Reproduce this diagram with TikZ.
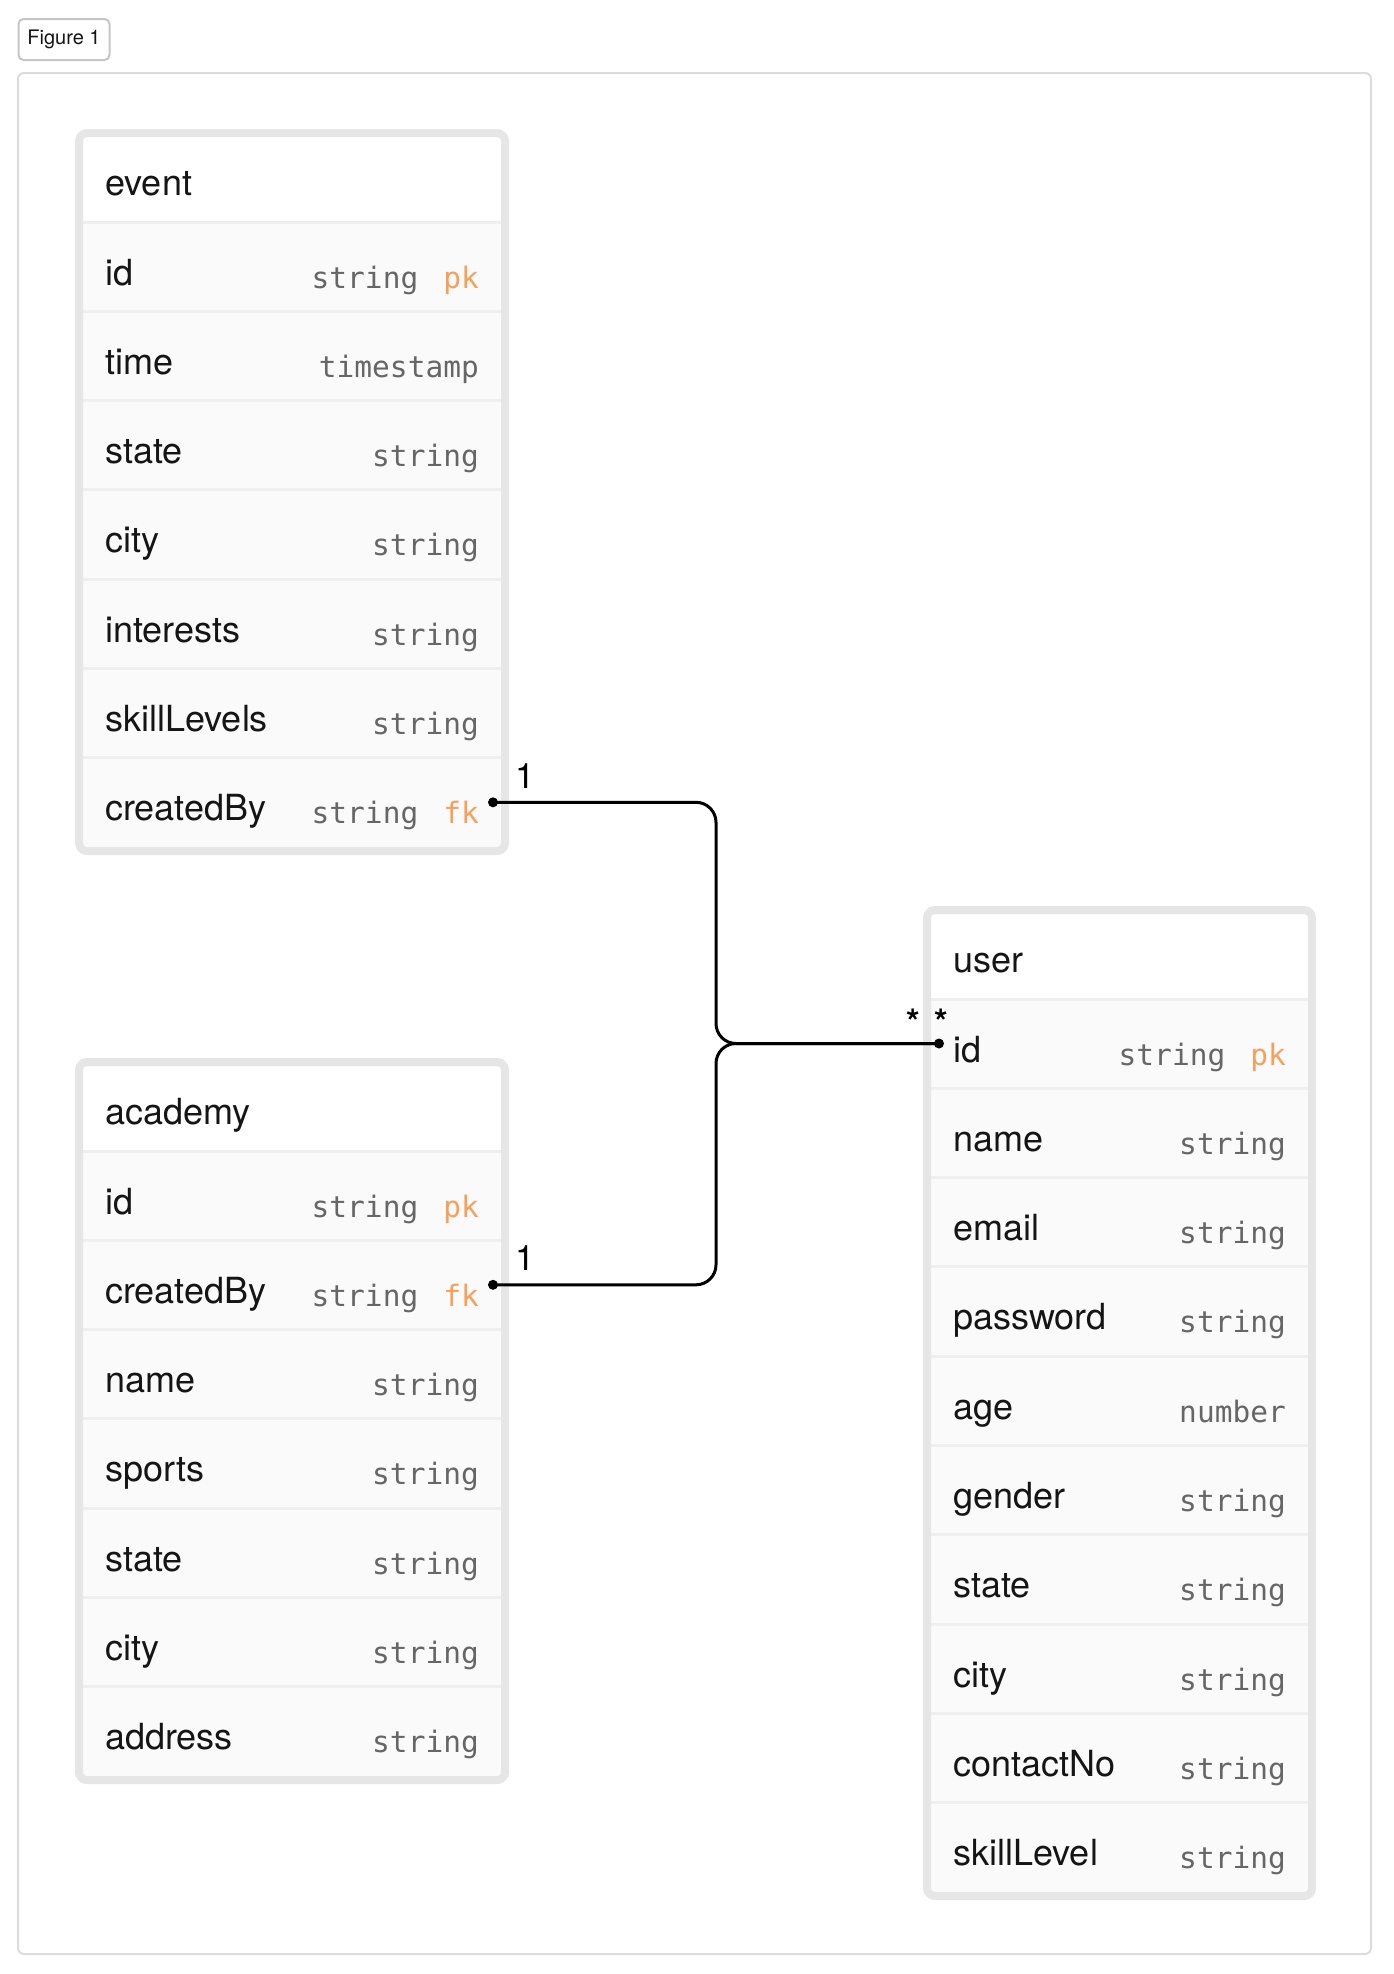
\documentclass[tikz,border=0pt]{standalone}
\usepackage{fontspec}
\setmainfont{TeX Gyre Heros}
\setmonofont{DejaVu Sans Mono}
\usepackage{tikz}
\usetikzlibrary{
  calc,
  positioning,
}
\definecolor{tableline}{HTML}{E6E6E6}
\definecolor{rowfill}{HTML}{FAFAFA}
\definecolor{rowsep}{HTML}{EFEFEF}
\definecolor{namecol}{HTML}{151515}
\definecolor{typecol}{HTML}{666666}
\definecolor{keycol}{HTML}{F5A15C}
\definecolor{panelline}{HTML}{DCDCDC}
\tikzset{
  panel/.style={draw=panelline, line width=2pt, rounded corners=6pt},
  figtag/.style={draw=panelline!90!black, line width=2pt, rounded corners=5pt,
    minimum width=91pt, minimum height=41pt, inner sep=0,
    font=\fontsize{20}{24}\selectfont, text=namecol},
  tableborder/.style={draw=tableline, line width=8pt, rounded corners=8pt},
  rowline/.style={draw=rowsep, line width=3pt},
  title/.style={font=\fontsize{36}{40}\selectfont, text=namecol, inner sep=0},
  field/.style={font=\fontsize{36}{40}\selectfont, text=namecol, inner sep=0},
  ftype/.style={font=\fontsize{29.5}{32}\selectfont\ttfamily, text=typecol, inner sep=0},
  card/.style={font=\fontsize{35}{40}\selectfont, inner sep=0},
  rel/.style={line width=3pt, rounded corners=20pt},
}
\newcommand{\keytag}[1]{\ifx#1\empty\else\hspace{25pt}\textcolor{keycol}{#1}\fi}
% #1 name, (#2,#3) outer top left, #4 outer width, #5 rows, #6 fields
\newcommand{\entity}[6]{
  \fill[rowfill] ({#2+8},{#3+93}) rectangle ({#2+#4-8},{#3+93+#5*89.3});
  \fill[white] ({#2+8},{#3+8}) rectangle ({#2+#4-8},{#3+93});
  \node[title, anchor=base west] (#1-title) at ({#2+30},{#3+66}) {#1};
  \foreach \n/\t/\k [count=\i from 0] in {#6} {
    \draw[rowline] ({#2+8},{#3+93+\i*89.3}) -- ({#2+#4-8},{#3+93+\i*89.3});
    \node[field, anchor=base west] (#1-\n) at ({#2+30},{#3+156+\i*89.3}) {\n};
    \node[ftype, anchor=base east] (#1-\n-type) at ({#2+#4-30},{#3+159+\i*89.3}) {\t\keytag{\k}};
    \coordinate (#1-\n-l) at ({#2+16},{#3+137.5+\i*89.3});
    \coordinate (#1-\n-r) at ({#2+#4-16},{#3+137.5+\i*89.3});
  }
  \draw[tableborder] ({#2+4},{#3+4}) rectangle ({#2+#4-4},{#3+97+#5*89.3});
}

\begin{document}
\begin{tikzpicture}[x=1pt, y=-1pt]
  \useasboundingbox (0,0) rectangle (1393,1974);
  \node[figtag] (figtag) at (64,39.5) {Figure 1};
  \draw[panel] (18,73) rectangle (1371,1954);

  \entity{event}{75}{129}{434}{7}{id/string/pk, time/timestamp/, state/string/,
    city/string/, interests/string/, skillLevels/string/, createdBy/string/fk}
  \entity{academy}{75}{1058}{434}{7}{id/string/pk, createdBy/string/fk, name/string/,
    sports/string/, state/string/, city/string/, address/string/}
  \entity{user}{923}{906}{393}{10}{id/string/pk, name/string/, email/string/,
    password/string/, age/number/, gender/string/, state/string/, city/string/,
    contactNo/string/, skillLevel/string/}

  % relations
  \coordinate (bus) at ($(user-id-l)+(-223,0)$);
  \draw[rel] (event-createdBy-r) -| (bus) -- (user-id-l);
  \draw[rel] (academy-createdBy-r) -| (bus) -- (user-id-l);
  \fill (event-createdBy-r) circle (5pt);
  \fill (academy-createdBy-r) circle (5pt);
  \fill (user-id-l) circle (5pt);

  \node[card, anchor=base] (event-one) at ($(event-createdBy-r)+(32,-14)$) {1};
  \node[card, anchor=base] (academy-one) at ($(academy-createdBy-r)+(32,-14)$) {1};
  \node[card, anchor=base] (user-many-a) at ($(user-id-l)+(-26,-9)$) {\textbf{*}};
  \node[card, anchor=base] (user-many-b) at ($(user-id-l)+(2,-9)$) {\textbf{*}};
\end{tikzpicture}
\end{document}
